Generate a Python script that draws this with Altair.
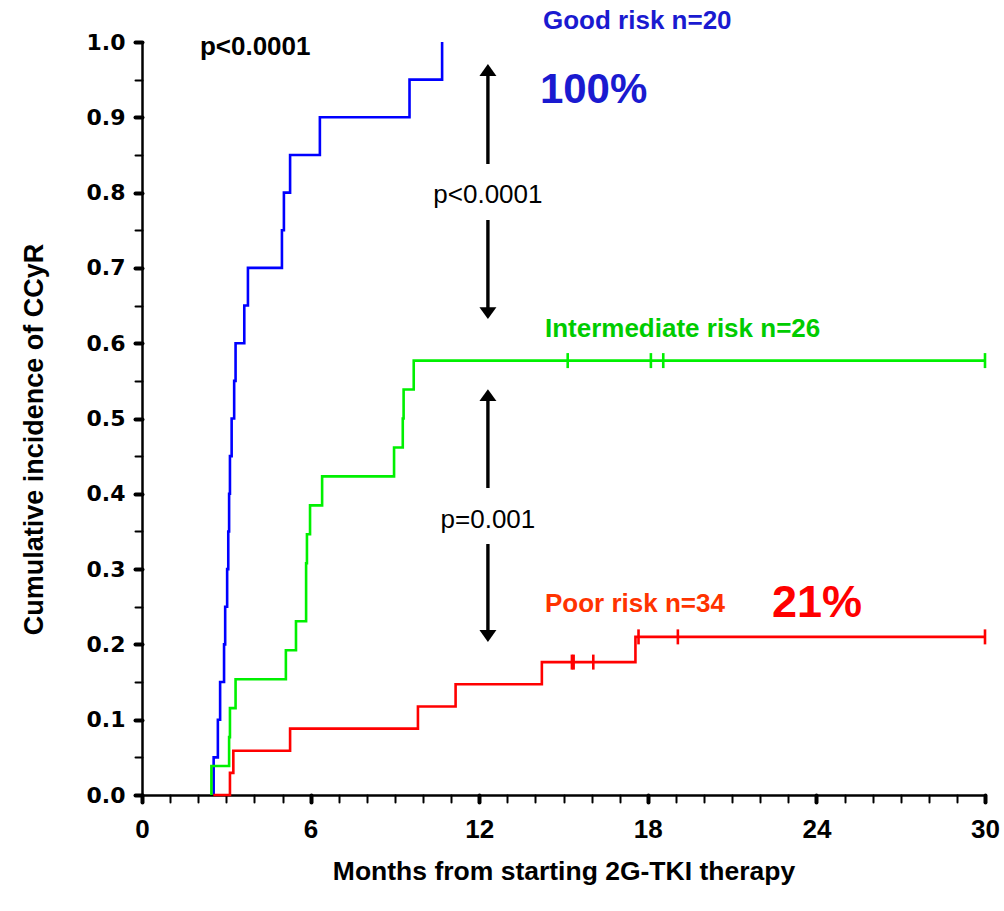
import altair as alt
import pandas as pd

# Cumulative incidence of CCyR by risk group (step curves: month, cumulative incidence)
good_months = [2.55, 2.55, 2.70, 2.78, 2.92, 2.96, 3.03, 3.07, 3.10, 3.13, 3.19,
               3.28, 3.33, 3.64, 3.77, 4.98, 5.05, 5.27, 6.33, 9.52, 10.68]
good_cum = [0.00, 0.05, 0.10, 0.15, 0.20, 0.25, 0.30, 0.35, 0.40, 0.45, 0.50,
            0.55, 0.60, 0.65, 0.70, 0.75, 0.80, 0.85, 0.90, 0.95, 1.00]

inter_months = [2.47, 2.47, 3.10, 3.13, 3.33, 5.12, 5.48, 5.84, 5.84, 5.87, 5.98,
                6.41, 8.97, 9.28, 9.31, 9.67, 30.0]
inter_cum = [0.0, 0.0385, 0.0769, 0.1154, 0.1538, 0.1923, 0.2308, 0.2692, 0.3077,
             0.3462, 0.3846, 0.4231, 0.4615, 0.5000, 0.5385, 0.5769, 0.5769]

poor_months = [2.54, 3.13, 3.25, 5.27, 9.82, 11.16, 14.23, 17.56, 30.0]
poor_cum = [0.0, 0.0294, 0.0588, 0.0882, 0.1176, 0.1471, 0.1765, 0.21, 0.21]

# Censored observations (months)
inter_censored = [15.15, 18.11, 18.55, 30.0]
poor_censored = [15.30, 15.36, 16.06, 17.67, 19.07, 30.0]

x_ticks = list(range(0, 31))
y_ticks = [round(k * 0.05, 2) for k in range(21)]

SANS = "Liberation Sans, Arial, Helvetica, sans-serif"
HEAVY = "DejaVu Sans, Verdana, sans-serif"


def curve_rows(group, months, cum):
    return [{"group": group, "month": m, "cum": c, "i": k}
            for k, (m, c) in enumerate(zip(months, cum))]


def level_at(months, cum, t):
    v = 0.0
    for m, c in zip(months, cum):
        if m <= t:
            v = c
    return v


curves = pd.DataFrame(
    curve_rows("Good", good_months, good_cum)
    + curve_rows("Intermediate", inter_months, inter_cum)
    + curve_rows("Poor", poor_months, poor_cum)
)

censored = pd.DataFrame(
    [{"group": "Intermediate", "month": t, "cum": level_at(inter_months, inter_cum, t)}
     for t in inter_censored]
    + [{"group": "Poor", "month": t, "cum": level_at(poor_months, poor_cum, t)}
       for t in poor_censored]
)

groups = ["Good", "Intermediate", "Poor"]
colors = ["#0000FF", "#00F000", "#FF0000"]
color = alt.Color("group:N", scale=alt.Scale(domain=groups, range=colors), legend=None)

x_axis = alt.Axis(
    values=x_ticks,
    labelExpr="datum.value % 6 === 0 ? datum.label : ''",
    labelFont=SANS, labelFontSize=26, labelFontWeight="bold", labelColor="black",
    labelPadding=14, labelFlush=False, labelOverlap=False,
    tickSize=7, tickColor="black", tickCap="round",
    tickWidth={"condition": {"test": "datum.value % 6 === 0", "value": 4}, "value": 2},
    domainColor="black", domainWidth=2.5, grid=False,
    title="Months from starting 2G-TKI therapy",
    titleFont=SANS, titleFontSize=26.5, titleFontWeight="bold", titleColor="black",
    titleY=84, titleBaseline="alphabetic",
)
y_axis = alt.Axis(
    values=y_ticks,
    labelExpr="abs(datum.value * 10 - round(datum.value * 10)) < 0.001 ? format(datum.value, '.1f') : ''",
    labelFont=HEAVY, labelFontSize=22, labelFontWeight="bold", labelColor="black",
    labelPadding=10, labelOverlap=False,
    tickSize=7, tickColor="black", tickCap="round",
    tickWidth={"condition": {"test": "abs(datum.value * 10 - round(datum.value * 10)) < 0.001",
                             "value": 4}, "value": 2},
    domainColor="black", domainWidth=2.5, grid=False,
    title="Cumulative incidence  of CCyR",
    titleFont=SANS, titleFontSize=27, titleFontWeight="bold", titleColor="black",
    titleAngle=270, titleX=-100, titleY=397, titleAlign="center", titleBaseline="alphabetic",
)

X = alt.X("month:Q", scale=alt.Scale(domain=[0, 30], nice=False, zero=False), axis=x_axis)
Y = alt.Y("cum:Q", scale=alt.Scale(domain=[0, 1], nice=False), axis=y_axis)

lines = alt.Chart(curves).mark_line(interpolate="step-after", strokeWidth=2.6).encode(
    x=X, y=Y, color=color, detail="group:N", order="i:Q"
)

ticks = alt.Chart(censored).mark_point(
    shape="M0,-1L0,1", size=225, strokeWidth=2.6, filled=False, opacity=1
).encode(x=X, y=Y, stroke=alt.Color("group:N", scale=alt.Scale(domain=groups, range=colors), legend=None))

# Comparison arrows between the curves
shafts = pd.DataFrame([
    {"month": 12.31, "cum": 0.963, "cum2": 0.838},
    {"month": 12.31, "cum": 0.7636, "cum2": 0.640},
    {"month": 12.31, "cum": 0.531, "cum2": 0.4077},
    {"month": 12.31, "cum": 0.3333, "cum2": 0.2112},
])
heads_up = pd.DataFrame([{"month": 12.31, "cum": 0.9628}, {"month": 12.31, "cum": 0.531}])
heads_down = pd.DataFrame([{"month": 12.31, "cum": 0.640}, {"month": 12.31, "cum": 0.2112}])

shaft_layer = alt.Chart(shafts).mark_rule(color="black", strokeWidth=3.4).encode(
    x=X, y=Y, y2="cum2:Q"
)
up_layer = alt.Chart(heads_up).mark_point(
    shape="M0,-0.7L1,0.7L-1,0.7Z", size=289, filled=True, color="black", opacity=1, strokeWidth=0
).encode(x=X, y=Y)
down_layer = alt.Chart(heads_down).mark_point(
    shape="M0,0.7L1,-0.7L-1,-0.7Z", size=289, filled=True, color="black", opacity=1, strokeWidth=0
).encode(x=X, y=Y)


def label(text, month, cum, size, color_value, weight="bold", align="left"):
    df = pd.DataFrame([{"month": month, "cum": cum, "text": text}])
    return alt.Chart(df).mark_text(
        font=SANS, fontSize=size, fontWeight=weight, color=color_value,
        align=align, baseline="alphabetic"
    ).encode(x=X, y=Y, text="text:N")


labels = [
    label("p<0.0001", 2.06, 0.9827, 26, "black"),
    label("Good risk n=20", 14.27, 1.0169, 26, "#1A1AD0"),
    label("100%", 14.16, 0.919, 42, "#1A1AD0"),
    label("Intermediate risk n=26", 14.34, 0.608, 26, "#00CC00"),
    label("Poor risk n=34", 14.34, 0.2434, 26, "#FF3300"),
    label("21%", 22.42, 0.2368, 45, "#FF0000"),
    label("p<0.0001", 12.31, 0.7867, 26, "black", weight="normal", align="center"),
    label("p=0.001", 12.31, 0.3546, 26, "black", weight="normal", align="center"),
]

chart = alt.layer(lines, ticks, shaft_layer, up_layer, down_layer, *labels).properties(
    width=843,
    height=753,
    autosize=alt.AutoSizeParams(type="none"),
    padding={"left": 142, "top": 42, "right": 19, "bottom": 116},
    background="white",
).configure_view(stroke=None)

chart.save("out.html", embed_options={"renderer": "svg", "actions": False})
